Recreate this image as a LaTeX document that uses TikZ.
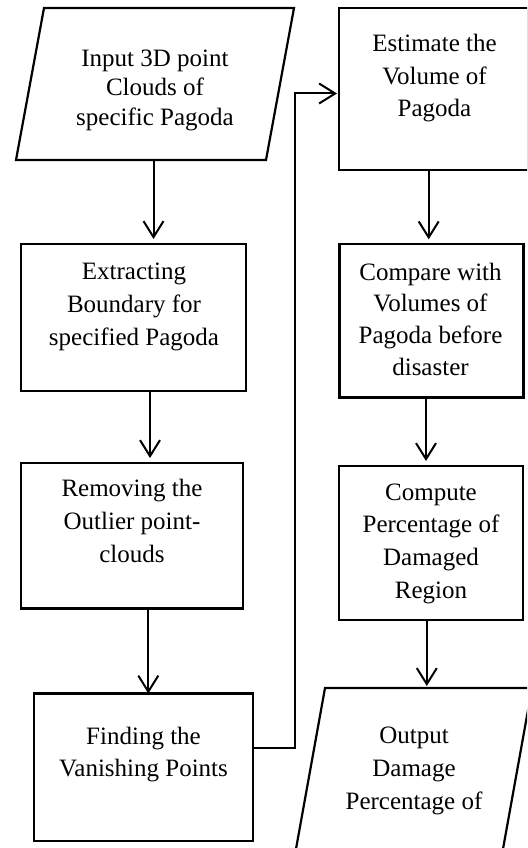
\documentclass[tikz,border=0pt]{standalone}
\usepackage{fontspec}
\setmainfont{Liberation Serif}
\usetikzlibrary{arrows.meta}
\newcommand{\mylines}[1]{\begin{tabular}[t]{@{}c@{}}#1\end{tabular}}
\tikzset{
  box/.style={draw, rectangle, line width=2.2pt, inner sep=0pt, outer sep=0pt},
  para/.style={draw, line width=2.2pt, line join=miter},
  arr/.style={line width=2pt, -{Straight Barb[length=16pt,width=20pt]}, shorten >=5pt},
  txt/.style={inner sep=0pt, outer sep=0pt, anchor=base},
  lead/.style={font=\fontsize{25pt}{#1pt}\selectfont},
}
\begin{document}
\begin{tikzpicture}[x=1pt, y=-1pt]
\useasboundingbox (0,0) rectangle (527,848);
\begin{scope}
\clip (0,0) rectangle (527,848);

% parallelograms
\draw[para] (44,8) -- (294,8) -- (266,160) -- (16,160) -- cycle;
\draw[para] (325,688) -- (532,688) -- (501,860) -- (294,860) -- cycle;

% boxes
\node[box, minimum width=189pt, minimum height=162pt] (est) at (433.5,89) {};
\node[box, minimum width=225pt, minimum height=147pt] (ext) at (133.5,317.5) {};
\node[box, minimum width=222pt, minimum height=145.5pt] (rem) at (132,535.75) {};
\node[box, minimum width=219.3pt, minimum height=147.5pt] (fin) at (143.65,767.25) {};
\node[box, minimum width=184pt, minimum height=153.2pt] (cmp) at (431.5,320.9) {};
\node[box, minimum width=184pt, minimum height=154pt] (cpt) at (431,543) {};

% texts
\node[txt, lead=29.3] (tin) at (155,66.7) {\mylines{Input 3D point\\Clouds of\\specific Pagoda}};
\node[txt, lead=32.5] (test) at (434.5,52) {\mylines{Estimate the\\Volume of\\Pagoda}};
\node[txt, lead=33] (text) at (134,279) {\mylines{Extracting\\Boundary for\\specified Pagoda}};
\node[txt, lead=31.7] (tcmp) at (430.5,280) {\mylines{Compare with\\Volumes of\\Pagoda before\\disaster}};
\node[txt, lead=33] (trem) at (132,496.7) {\mylines{Removing the\\Outlier point-\\clouds}};
\node[txt, lead=32.8] (tcpt) at (431,500) {\mylines{Compute\\Percentage of\\Damaged\\Region}};
\node[txt, lead=32.7] (tfin) at (143.5,744) {\mylines{Finding the\\Vanishing Points}};
\node[txt, lead=33] (tout) at (414,743.3) {\mylines{Output\\Damage\\Percentage of}};

% connector anchor points
\coordinate (s1) at (153.5,160);
\coordinate (s2) at (150,391);
\coordinate (s3) at (148.3,608.5);
\coordinate (s5) at (428.7,170);
\coordinate (s6) at (426,397.5);
\coordinate (s7) at (426.8,620);
\coordinate (outT) at (426.8,688);
\coordinate (j1) at (294.5,748);
\coordinate (j2) at (294.5,93.5);

% connectors
\draw[arr] (s1) -- (s1 |- ext.north);
\draw[arr] (s2 |- ext.south) -- (s2 |- rem.north);
\draw[arr, shorten >=0pt] (s3 |- rem.south) -- (s3 |- fin.north);
\draw[arr, shorten >=2pt] (fin.east |- j1) -- (j1) -- (j2) -- (j2 -| est.west);
\draw[arr] (s5 |- est.south) -- (s5 |- cmp.north);
\draw[arr] (s6 |- cmp.south) -- (s6 |- cpt.north);
\draw[arr, shorten >=2pt] (s7 |- cpt.south) -- (outT);
\end{scope}
\end{tikzpicture}
\end{document}
